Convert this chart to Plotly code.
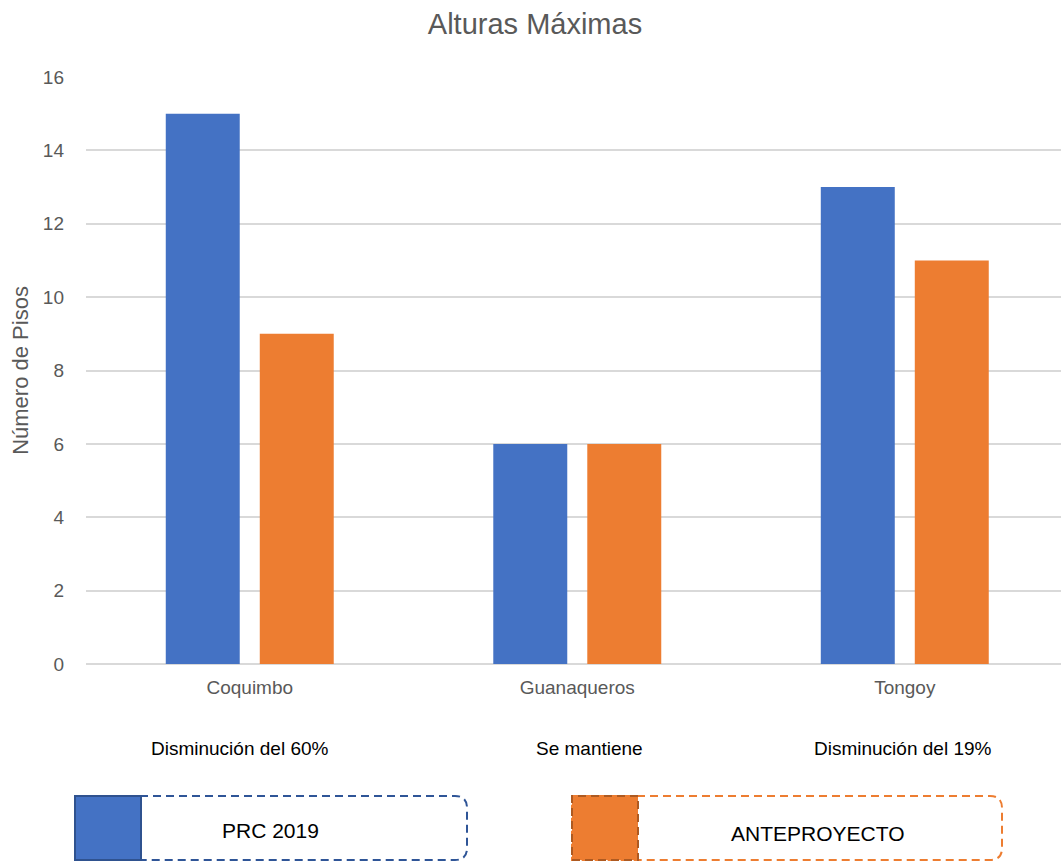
import plotly.graph_objects as go

# Data
localidades = ["Coquimbo", "Guanaqueros", "Tongoy"]
prc_2019 = [15, 6, 13]
anteproyecto = [9, 6, 11]
variacion = ["Disminución del 60%", "Se mantiene", "Disminución del 19%"]
y_ticks = [0, 2, 4, 6, 8, 10, 12, 14, 16]

BLUE = "#4472C4"
ORANGE = "#ED7D31"
GRAY_TXT = "#595959"
FONT = "Liberation Sans Narrow, Arial Narrow, Liberation Sans, Arial, sans-serif"

W, H = 1061, 863
L, R, T, B = 86, 0, 77, 199
PW, PH = W - L - R, H - T - B


def px(x):
    return (x - L) / PW


def py(y):
    return (H - B - y) / PH


fig = go.Figure()
fig.add_trace(go.Bar(name="PRC 2019", x=localidades, y=prc_2019,
                     marker=dict(color=BLUE, line=dict(width=0))))
fig.add_trace(go.Bar(name="ANTEPROYECTO", x=localidades, y=anteproyecto,
                     marker=dict(color=ORANGE, line=dict(width=0))))

fig.update_layout(
    width=W, height=H,
    margin=dict(l=L, r=R, t=T, b=B),
    paper_bgcolor="white", plot_bgcolor="white",
    barmode="group", bargap=0.426, bargroupgap=0.213,
    showlegend=False,
    font=dict(family=FONT, color=GRAY_TXT),
    title=dict(text="Alturas Máximas", x=535 / W, xref="container", xanchor="center",
               y=1 - 24 / H, yref="container", yanchor="middle",
               font=dict(size=29, color=GRAY_TXT, family=FONT)),
)

fig.update_xaxes(range=[-0.5, 2.477], showgrid=False, showline=False, zeroline=False,
                 ticks="", tickfont=dict(size=19, color=GRAY_TXT, family=FONT),
                 ticklabelstandoff=10)
fig.update_yaxes(range=[0, 16], tickvals=y_ticks, showgrid=True, gridcolor="#D9D9D9",
                 gridwidth=1.5, zeroline=True, zerolinecolor="#D9D9D9", zerolinewidth=1.5,
                 showline=False, ticks="", ticklabelstandoff=21,
                 tickfont=dict(size=19, color=GRAY_TXT, family=FONT),
                 title=dict(text="Número de Pisos", standoff=8,
                            font=dict(size=22, color=GRAY_TXT, family=FONT)))

# Texto de variación bajo cada localidad
desplaz = [-10, 12, -2]
for loc, txt, dx in zip(localidades, variacion, desplaz):
    fig.add_annotation(x=loc, xref="x", y=py(748), yref="paper", text=txt,
                       showarrow=False, xanchor="center", yanchor="middle",
                       xshift=dx, font=dict(size=19, color="black", family=FONT))


def leyenda(x0, x1, y0, y1, sq, color, borde, borde_sq, dash_sq, texto, tx, ty):
    r = 12
    # contorno discontinuo con esquinas redondeadas a la derecha
    path = (f"M {px(x0)},{py(y0)} L {px(x1 - r)},{py(y0)} "
            f"Q {px(x1)},{py(y0)} {px(x1)},{py(y0 + r)} "
            f"L {px(x1)},{py(y1 - r)} "
            f"Q {px(x1)},{py(y1)} {px(x1 - r)},{py(y1)} "
            f"L {px(x0)},{py(y1)} Z")
    fig.add_shape(type="path", path=path, xref="paper", yref="paper",
                  line=dict(color=borde, width=2, dash="8px,5px"), fillcolor="white",
                  layer="above")
    fig.add_shape(type="rect", xref="paper", yref="paper",
                  x0=px(x0), x1=px(x0 + sq), y0=py(y1), y1=py(y0),
                  fillcolor=color, line=dict(color=borde_sq, width=2, dash=dash_sq),
                  layer="above")
    fig.add_annotation(x=px(tx), y=py(ty), xref="paper", yref="paper", text=texto,
                       showarrow=False, xanchor="center", yanchor="middle",
                       font=dict(size=21, color="black", family=FONT))


leyenda(75, 467, 796, 860, 66, BLUE, "#2F5597", "#2F528F", "solid", "PRC 2019", 270, 830)
leyenda(572, 1002, 796, 860, 66, ORANGE, ORANGE, "#AE5A21", "8px,5px", "ANTEPROYECTO", 817, 833)

fig.write_html("out.html")
